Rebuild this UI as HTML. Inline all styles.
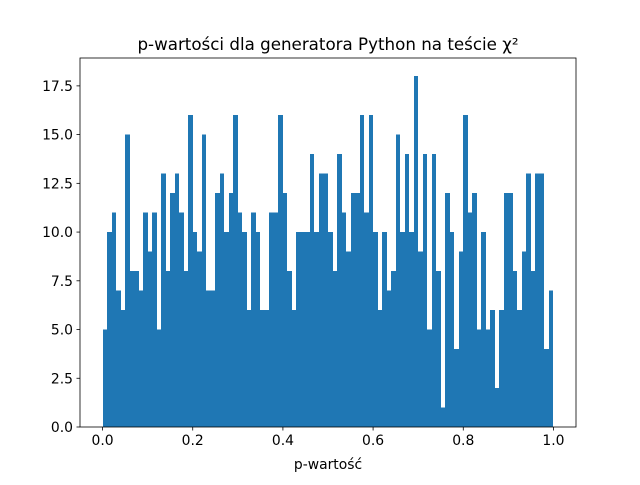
<!DOCTYPE html>
<html><head><meta charset="utf-8"><style>
body{margin:0;background:#fff}
svg text{font-family:"DejaVu Sans","Liberation Sans",sans-serif;fill:#000}
</style></head><body>
<svg id="chart" width="640" height="480" xmlns="http://www.w3.org/2000/svg">
<rect width="640" height="480" fill="#fff"/>
<text x="328" y="50" font-size="16.7" text-anchor="middle">p-wartości dla generatora Python na teście χ²</text>
<g id="bars" shape-rendering="crispEdges"></g>
<g id="axes"></g>
<text x="328" y="469" font-size="13.9" text-anchor="middle">p-wartość</text>
</svg>
<script>
const counts=[5,10,11,7,6,15,8,8,7,11,9,11,5,13,8,12,13,11,8,16,10,9,15,7,7,12,13,10,12,16,11,10,6,11,10,6,6,11,11,16,12,8,6,10,10,10,14,10,13,13,10,8,14,11,9,12,12,16,11,16,10,6,10,7,8,15,10,14,10,18,9,14,5,14,8,1,12,10,4,9,16,11,12,5,10,5,6,2,6,12,12,8,6,9,13,8,13,13,4,7];
const binStart=0, binEnd=1;
const xTicks=[0,0.2,0.4,0.6,0.8,1.0];
const xTickLabels=["0.0","0.2","0.4","0.6","0.8","1.0"];
const yTicks=[0,2.5,5,7.5,10,12.5,15,17.5];
const yTickLabels=["0.0","2.5","5.0","7.5","10.0","12.5","15.0","17.5"];
const L=80,R=576,T=58,B=427;
const xmin=-0.05,xmax=1.05,ymin=0,ymax=18.93;
const sx=v=>L+(v-xmin)/(xmax-xmin)*(R-L);
const sy=v=>B-(v-ymin)/(ymax-ymin)*(B-T);
const NS="http://www.w3.org/2000/svg";
const bars=document.getElementById('bars');
const w=(binEnd-binStart)/counts.length;
counts.forEach((c,i)=>{
  const r=document.createElementNS(NS,'rect');
  const x0=Math.round(sx(binStart+i*w)),x1=Math.round(sx(binStart+(i+1)*w));
  r.setAttribute('x',x0);r.setAttribute('width',x1-x0);
  r.setAttribute('y',sy(c));r.setAttribute('height',sy(0)-sy(c));
  r.setAttribute('fill','#1f77b4');
  
  
  bars.appendChild(r);
});
const axes=document.getElementById('axes');
const frame=document.createElementNS(NS,'rect');
frame.setAttribute('x',L);frame.setAttribute('y',T);frame.setAttribute('width',R-L);frame.setAttribute('height',B-T);
frame.setAttribute('fill','none');frame.setAttribute('stroke','#000');frame.setAttribute('stroke-width','0.8');


axes.appendChild(frame);
xTicks.forEach((t,i)=>{
  const x=sx(t);
  const l=document.createElementNS(NS,'line');
  l.setAttribute('x1',x);l.setAttribute('x2',x);l.setAttribute('y1',B);l.setAttribute('y2',B+3.5);
  l.setAttribute('stroke','#000');l.setAttribute('stroke-width','0.8');
  
  
  axes.appendChild(l);
  const tx=document.createElementNS(NS,'text');
  tx.setAttribute('x',x);tx.setAttribute('y',B+18);tx.setAttribute('font-size','13.9');tx.setAttribute('text-anchor','middle');
  tx.textContent=xTickLabels[i];
  
  
  axes.appendChild(tx);
});
yTicks.forEach((t,i)=>{
  const y=sy(t);
  const l=document.createElementNS(NS,'line');
  l.setAttribute('x1',L-3.5);l.setAttribute('x2',L);l.setAttribute('y1',y);l.setAttribute('y2',y);
  l.setAttribute('stroke','#000');l.setAttribute('stroke-width','0.8');
  
  
  axes.appendChild(l);
  const tx=document.createElementNS(NS,'text');
  tx.setAttribute('x',L-7);tx.setAttribute('y',y+5);tx.setAttribute('font-size','13.9');tx.setAttribute('text-anchor','end');
  tx.textContent=yTickLabels[i];
  
  
  axes.appendChild(tx);
});
</script>
</body></html>
